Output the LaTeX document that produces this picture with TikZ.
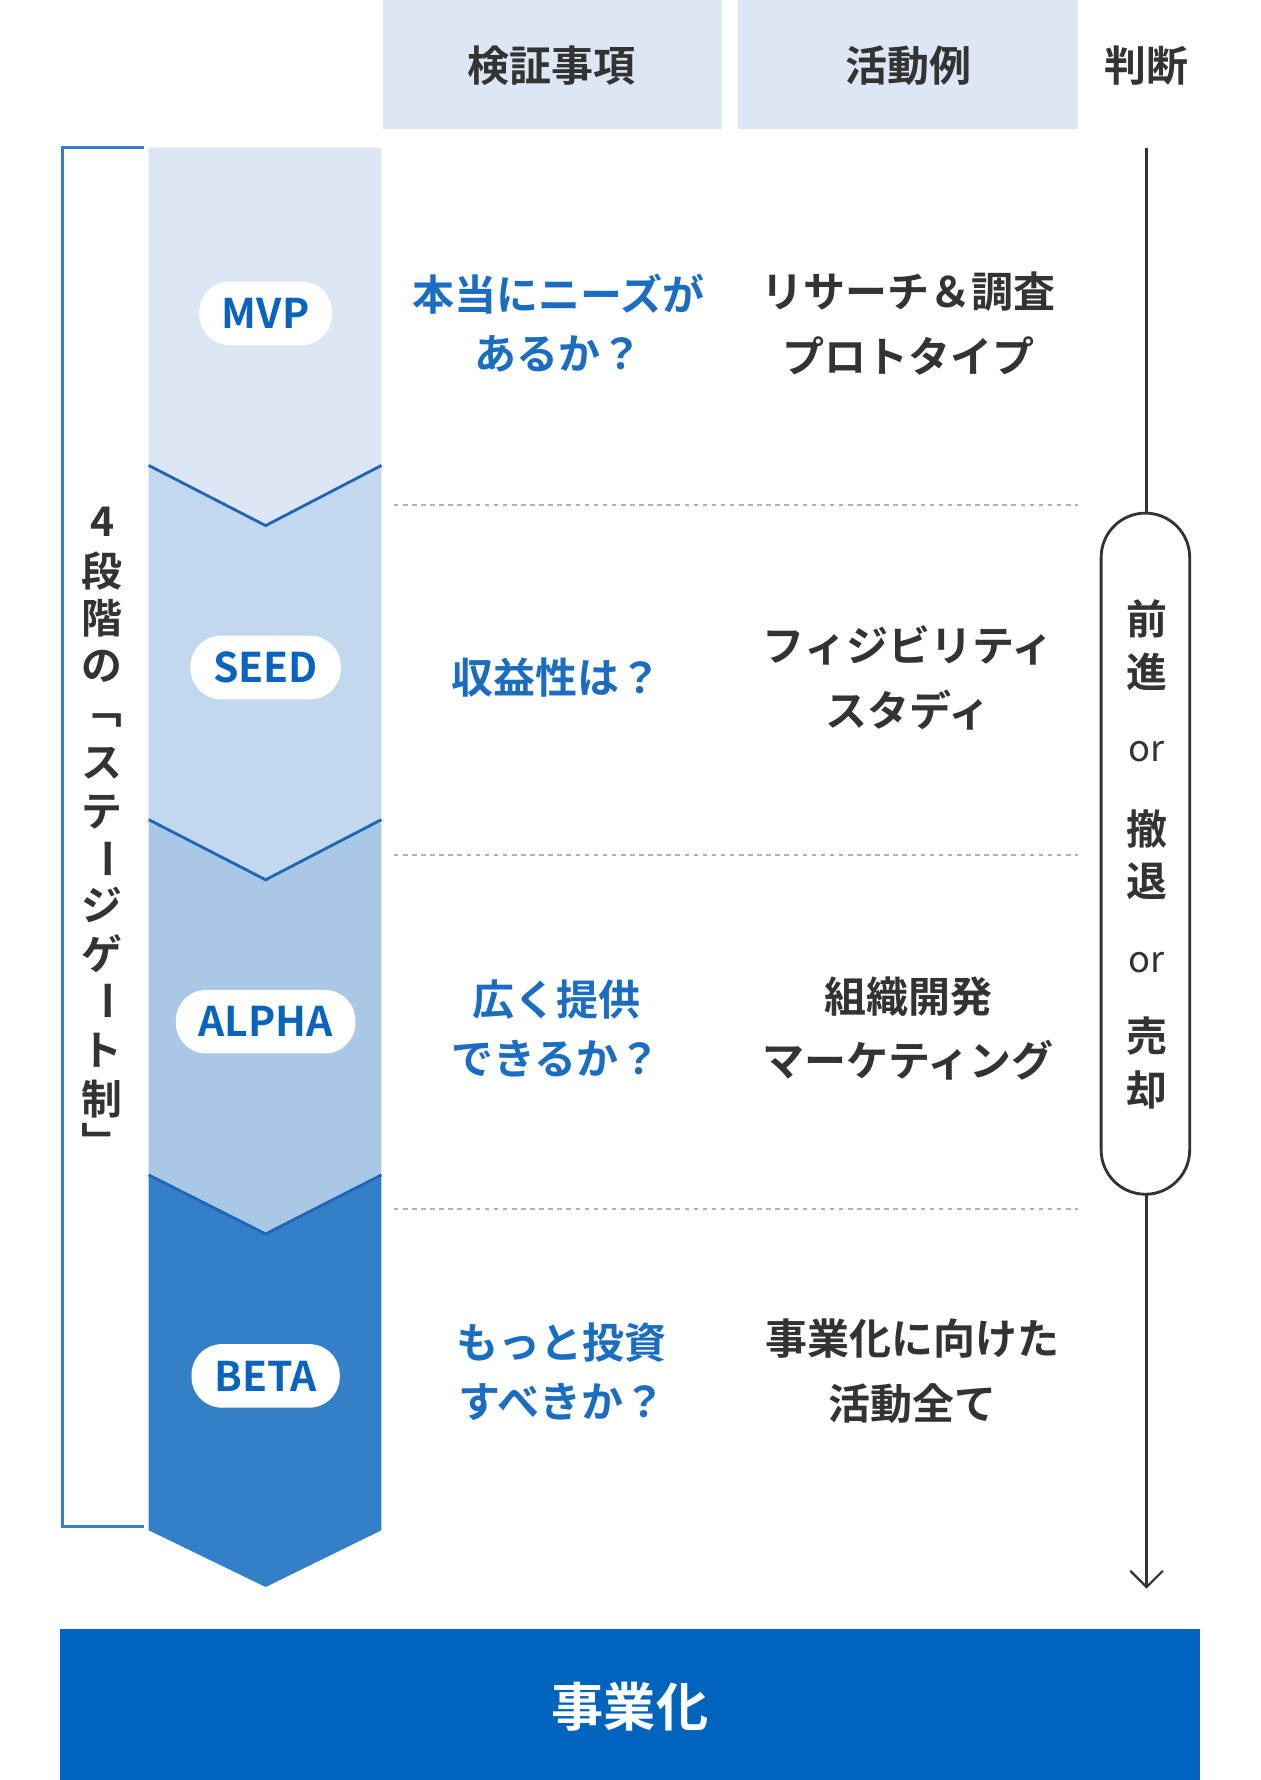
\documentclass[tikz,border=0pt]{standalone}
\usepackage{fontspec}
\setmainfont{Noto Sans CJK JP}
\newfontfamily\jpb{Noto Sans CJK JP Bold}
\begin{document}
\begin{tikzpicture}[x=1pt,y=-1pt,
  hdr/.style={fill=hdrc,draw=none},
  pill/.style={fill=white,rounded corners=27pt,minimum height=56pt,text=labc,font=\jpb\fontsize{36}{36}\selectfont,inner xsep=20pt},
  q/.style={text=qc,font=\jpb\fontsize{37}{52}\selectfont,align=center},
  act/.style={text=ac,font=\jpb\fontsize{37}{57}\selectfont,align=center},
  vt/.style={font=\jpb\fontsize{36}{36}\selectfont,text=ac},
  dots/.style={draw=gray!60,dashed,line width=2pt,dash pattern=on 4pt off 4pt},
  vline/.style={draw=vc,line width=2.5pt}]
\definecolor{hdrc}{HTML}{DCE6F4}
\definecolor{c1}{HTML}{DCE6F4}
\definecolor{c2}{HTML}{C2D8EF}
\definecolor{c3}{HTML}{A9C8E6}
\definecolor{c4}{HTML}{3380C8}
\definecolor{vc}{HTML}{1F66B8}
\definecolor{labc}{HTML}{0A64BE}
\definecolor{qc}{HTML}{1A6DC0}
\definecolor{ac}{HTML}{333333}
\definecolor{barc}{HTML}{0064BE}
\useasboundingbox (0,0) rectangle (1110,1568);
\fill[white] (0,0) rectangle (1110,1568);
% headers
\fill[hdr] (337,0) rectangle (636,114);
\fill[hdr] (650,0) rectangle (950,114);
\node[act] (h1) at (486,58) {検証事項};
\node[act] (h2) at (800,58) {活動例};
\node[act] (h3) at (1010,58) {判断};
% bracket
\draw[draw=c4,line width=2.5pt] (127,130) -- (55,130) -- (55,1345) -- (127,1345);
\foreach \c/\y in {4/460,段/503,階/545,の/587,﹁/635,ス/672,テ/715,ジ/797,ゲ/840,ト/925,制/968,﹂/1005}
  \node[vt] at (90,\y) {\c};
\node[vt,rotate=-90] at (90,757) {ー};
\node[vt,rotate=-90] at (90,882) {ー};
% chevrons
\fill[c1] (131,130) -- (336,130) -- (336,410) -- (234,463) -- (131,410) -- cycle;
\fill[c2] (131,410) -- (234,463) -- (336,410) -- (336,722) -- (234,775) -- (131,722) -- cycle;
\fill[c3] (131,722) -- (234,775) -- (336,722) -- (336,1035) -- (234,1087) -- (131,1035) -- cycle;
\fill[c4] (131,1035) -- (234,1087) -- (336,1035) -- (336,1348) -- (234,1398) -- (131,1348) -- cycle;
\draw[vline] (131,410) -- (234,463) -- (336,410);
\draw[vline] (131,722) -- (234,775) -- (336,722);
\draw[vline] (131,1035) -- (234,1087) -- (336,1035);
\node[pill] (p1) at (234,276) {MVP};
\node[pill] (p2) at (234,588) {SEED};
\node[pill] (p3) at (234,900) {ALPHA};
\node[pill] (p4) at (234,1212) {BETA};
% dotted
\foreach \y in {445,753,1065} \draw[dots] (347,\y) -- (950,\y);
% questions
\node[q] (q1) at (492,285) {本当にニーズが\\あるか？};
\node[q] (q2) at (490,597) {収益性は？};
\node[q] (q3) at (490,906) {広く提供\\できるか？};
\node[q] (q4) at (495,1208) {もっと投資\\すべきか？};
\node[act] (a1) at (800,285) {リサーチ＆調査\\プロトタイプ};
\node[act] (a2) at (800,597) {フィジビリティ\\スタディ};
\node[act] (a3) at (800,906) {組織開発\\マーケティング};
\node[act] (a4) at (804,1208) {事業化に向けた\\活動全て};
% right arrow
\coordinate (t) at (1010,130);
\coordinate (b) at (1010,1398);
\draw[line width=2pt,ac] (t) -- (1010,452);
\draw[line width=2pt,ac] (1010,1052) -- (b);
\draw[line width=2pt,ac,line cap=round] (996,1384) -- (b) -- (1024,1384);
\draw[line width=2.5pt,ac,fill=white,rounded corners=39pt] (970,452) rectangle (1048,1052);
\foreach \c/\y in {前/545,進/592,撤/730,退/776,売/913,却/960}
  \node[vt] at (1010,\y) {\c};
\node[text=ac,font=\fontsize{32}{32}\selectfont] at (1010,662) {or};
\node[text=ac,font=\fontsize{32}{32}\selectfont] at (1010,848) {or};
% bottom bar
\fill[barc] (53,1435) rectangle (1057,1568);
\node[text=white,font=\jpb\fontsize{46}{46}\selectfont] (bar) at (555,1503) {事業化};
\end{tikzpicture}
\end{document}
